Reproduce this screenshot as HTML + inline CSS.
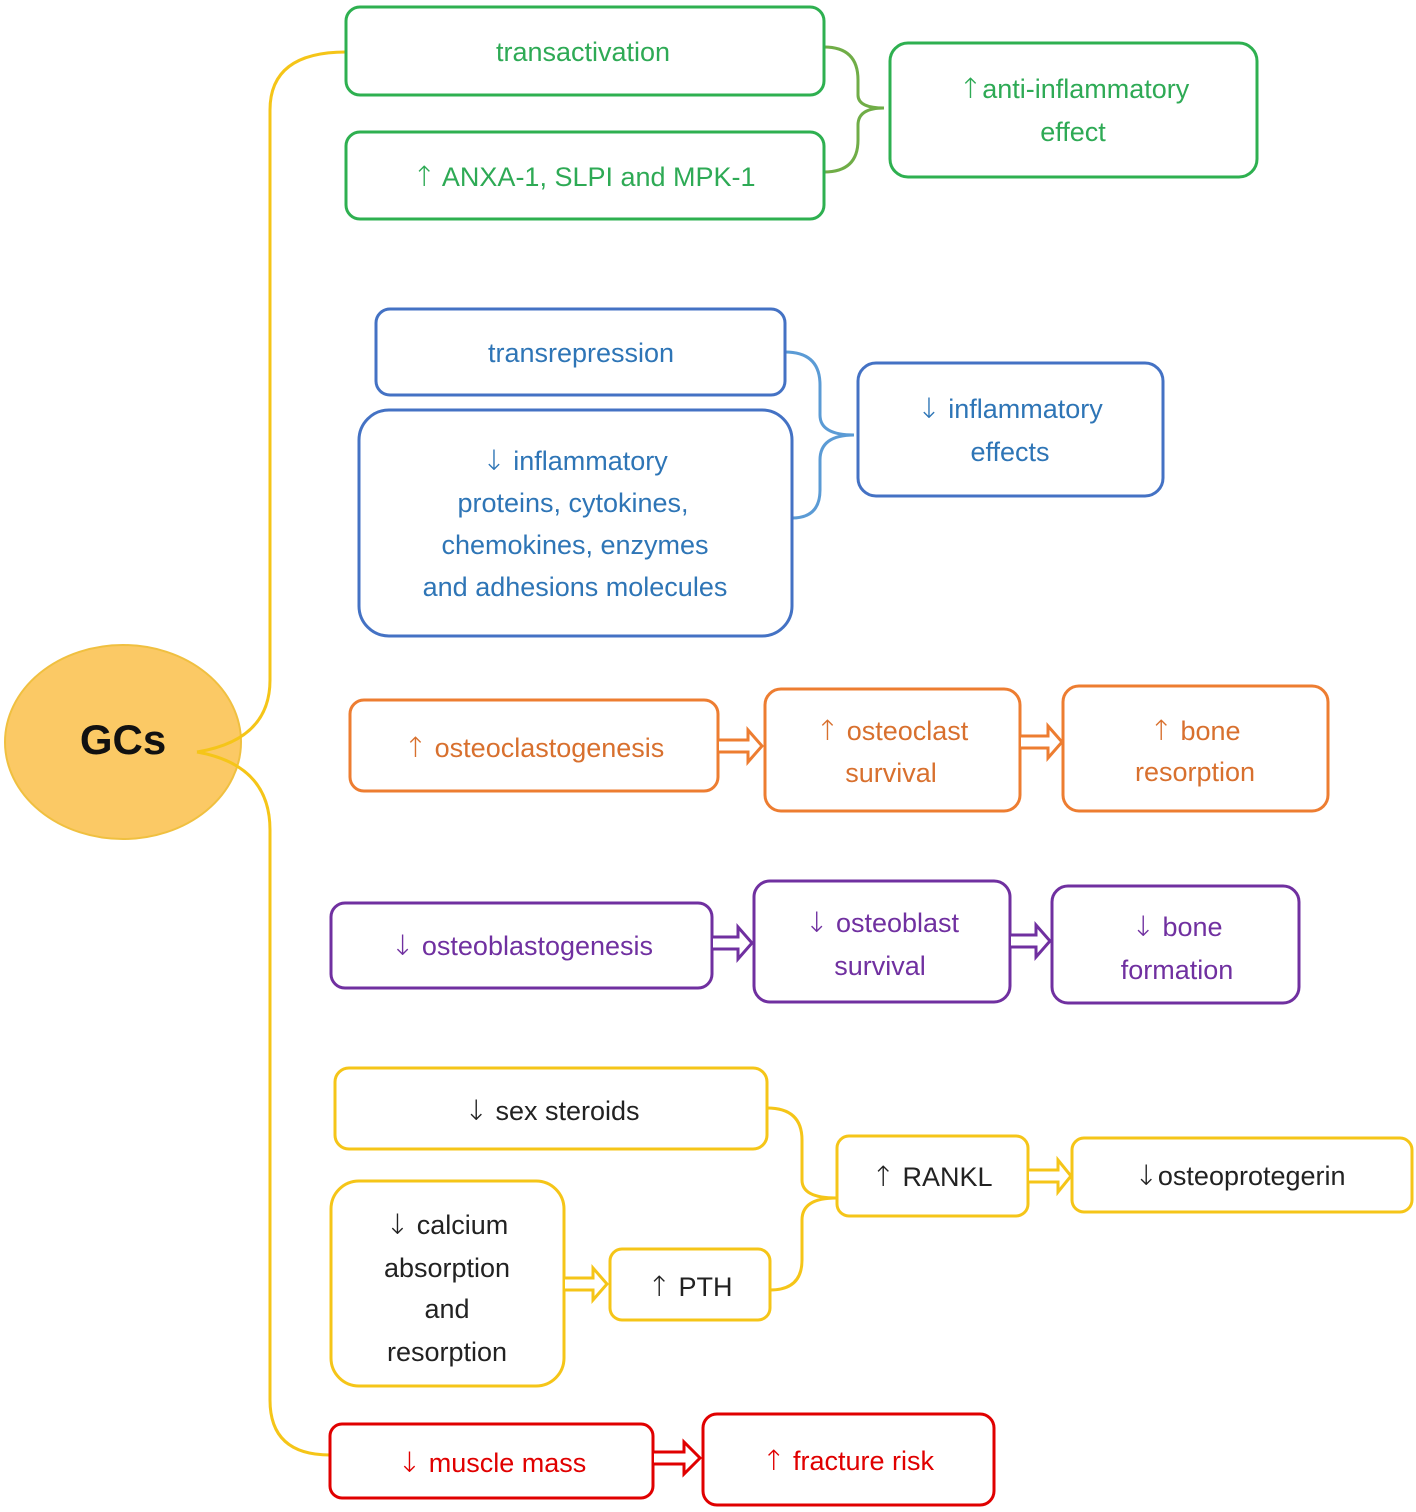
<!DOCTYPE html>
<html><head><meta charset="utf-8"><style>
html,body{margin:0;padding:0;background:#fff}
svg{display:block}
text{font-family:"Liberation Sans",sans-serif;font-size:27px;text-anchor:middle}
.a{font-family:"DejaVu Sans",sans-serif;font-size:28px;font-weight:300}
</style></head><body>
<svg width="1416" height="1512" viewBox="0 0 1416 1512" xmlns="http://www.w3.org/2000/svg">
<ellipse cx="123" cy="742" rx="118" ry="97" fill="#fbc965" stroke="#f0c040" stroke-width="2"/>
<g fill="none" stroke-width="3">
<path d="M197,752 Q270,740 270,680 L270,110 Q270,52 346,52" stroke="#f5c518"/>
<path d="M197,752 Q270,765 270,830 L270,1400 Q270,1455 330,1455" stroke="#f5c518"/>
<path d="M824,47 Q858,47 858,80 L858,95 Q858,108 884,108 Q858,108 858,125 L858,140 Q858,172 824,172" stroke="#70ad47"/>
<path d="M785,352 Q820,352 820,385 L820,415 Q820,435 854,435 Q820,435 820,460 L820,490 Q820,518 792,518" stroke="#5b9bd5"/>
<path d="M767,1108 Q802,1108 802,1140 L802,1180 Q802,1198 836,1198 Q802,1198 802,1220 L802,1260 Q802,1290 770,1290" stroke="#f5c518"/>
<g stroke="#2eb050"><rect x="346" y="7" width="478" height="88" rx="14"/><rect x="346" y="132" width="478" height="87" rx="14"/><rect x="890" y="43" width="367" height="134" rx="18"/></g>
<g stroke="#4472c4"><rect x="376" y="309" width="409" height="86" rx="14"/><rect x="359" y="410" width="433" height="226" rx="30"/><rect x="858" y="363" width="305" height="133" rx="18"/></g>
<g stroke="#ed7d31"><rect x="350" y="700" width="368" height="91" rx="14"/><rect x="765" y="689" width="255" height="122" rx="16"/><rect x="1063" y="686" width="265" height="125" rx="16"/></g>
<g stroke="#7030a0"><rect x="331" y="903" width="381" height="85" rx="14"/><rect x="754" y="881" width="256" height="121" rx="16"/><rect x="1052" y="886" width="247" height="117" rx="16"/></g>
<g stroke="#f5c518"><rect x="335" y="1068" width="432" height="81" rx="14"/><rect x="331" y="1181" width="233" height="205" rx="28"/><rect x="610" y="1249" width="160" height="71" rx="12"/><rect x="837" y="1136" width="191" height="80" rx="12"/><rect x="1072" y="1138" width="340" height="74" rx="12"/></g>
<g stroke="#e00000"><rect x="330" y="1424" width="323" height="74" rx="12"/><rect x="703" y="1414" width="291" height="91" rx="14"/></g>
</g>
<g fill="#fff" stroke-width="3">
<path d="M719,740 L748,740 L748,730 L762,746 L748,762 L748,752 L719,752" stroke="#ed7d31"/>
<path d="M1021,736 L1048,736 L1048,726 L1062,742 L1048,758 L1048,748 L1021,748" stroke="#ed7d31"/>
<path d="M713,937 L738,937 L738,927 L752,943 L738,959 L738,949 L713,949" stroke="#7030a0"/>
<path d="M1011,935 L1036,935 L1036,925 L1050,941 L1036,957 L1036,947 L1011,947" stroke="#7030a0"/>
<path d="M565,1278 L593,1278 L593,1268 L607,1284 L593,1300 L593,1290 L565,1290" stroke="#f5c518"/>
<path d="M1029,1170 L1058,1170 L1058,1160 L1071,1176 L1058,1192 L1058,1182 L1029,1182" stroke="#f5c518"/>
<path d="M654,1452 L684,1452 L684,1442 L700,1458 L684,1474 L684,1464 L654,1464" stroke="#e00000"/>
</g>
<text x="123" y="754" style="font-size:42px;font-weight:bold" fill="#111">GCs</text>
<g fill="#2eaa55">
<text x="583" y="61">transactivation</text>
<text x="584" y="186"><tspan class="a">↑</tspan> ANXA-1, SLPI and MPK-1</text>
<text x="1074" y="98"><tspan class="a">↑</tspan>anti-inflammatory</text>
<text x="1073" y="141">effect</text>
</g>
<g fill="#2e75b6">
<text x="581" y="362">transrepression</text>
<text x="575" y="470"><tspan class="a">↓</tspan> inflammatory</text>
<text x="573" y="512">proteins, cytokines,</text>
<text x="575" y="554">chemokines, enzymes</text>
<text x="575" y="596">and adhesions molecules</text>
<text x="1010" y="418"><tspan class="a">↓</tspan> inflammatory</text>
<text x="1010" y="461">effects</text>
</g>
<g fill="#d8702e">
<text x="534" y="757"><tspan class="a">↑</tspan> osteoclastogenesis</text>
<text x="892" y="740"><tspan class="a">↑</tspan> osteoclast</text>
<text x="891" y="782">survival</text>
<text x="1195" y="740"><tspan class="a">↑</tspan> bone</text>
<text x="1195" y="781">resorption</text>
</g>
<g fill="#7030a0">
<text x="522" y="955"><tspan class="a">↓</tspan> osteoblastogenesis</text>
<text x="882" y="932"><tspan class="a">↓</tspan> osteoblast</text>
<text x="880" y="975">survival</text>
<text x="1177" y="936"><tspan class="a">↓</tspan> bone</text>
<text x="1177" y="979">formation</text>
</g>
<g fill="#222">
<text x="552" y="1120"><tspan class="a">↓</tspan> sex steroids</text>
<text x="447" y="1234"><tspan class="a">↓</tspan> calcium</text>
<text x="447" y="1277">absorption</text>
<text x="447" y="1318">and</text>
<text x="447" y="1361">resorption</text>
<text x="690" y="1296"><tspan class="a">↑</tspan> PTH</text>
<text x="932" y="1186"><tspan class="a">↑</tspan> RANKL</text>
<text x="1240" y="1185"><tspan class="a">↓</tspan>osteoprotegerin</text>
</g>
<g fill="#e00000">
<text x="492" y="1472"><tspan class="a">↓</tspan> muscle mass</text>
<text x="848" y="1470"><tspan class="a">↑</tspan> fracture risk</text>
</g>
</svg>
</body></html>
